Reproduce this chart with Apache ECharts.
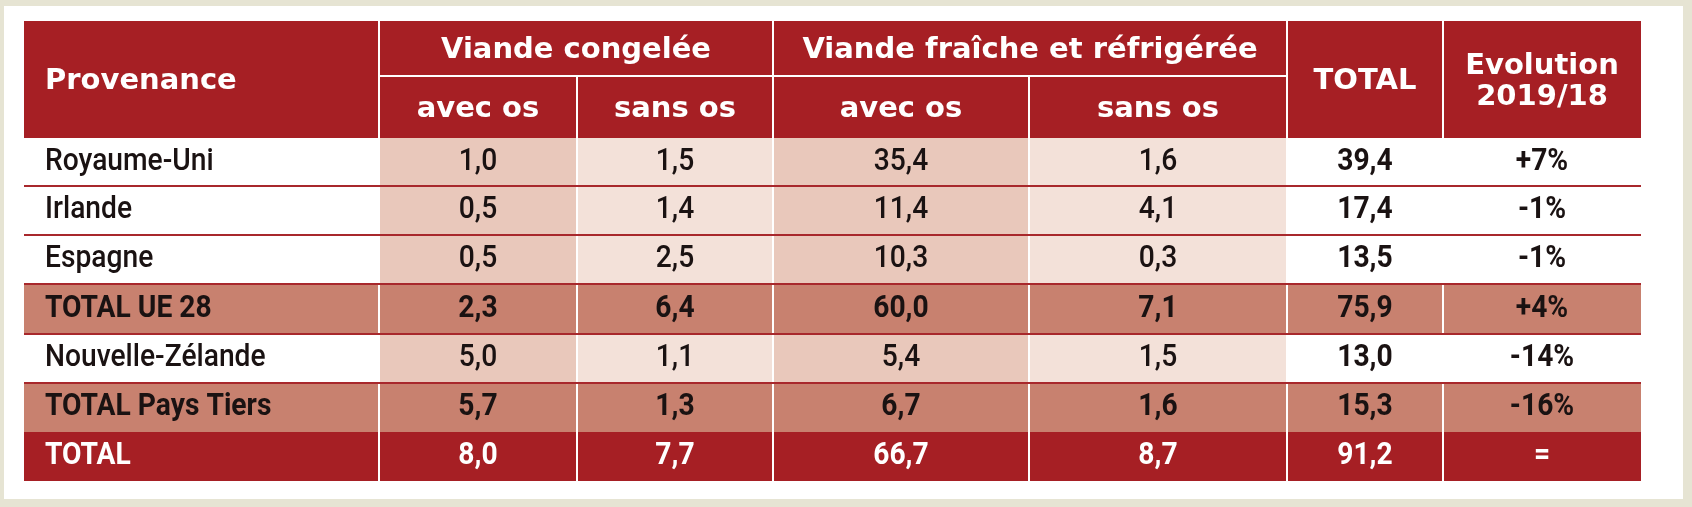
<!DOCTYPE html>
<html>
<head>
<meta charset="utf-8">
<script src="https://cdn.jsdelivr.net/npm/echarts@6/dist/echarts.min.js"></script>
<style>
html, body { margin: 0; padding: 0; background: #e6e4d3; }
#panel { position: absolute; left: 4px; top: 6px; width: 1679px; height: 493px; background: #fff; }
#chart { width: 1679px; height: 493px; }
</style>
</head>
<body>
<div id="panel"><div id="chart"></div></div>
<script>
// en-têtes
const headerTop = ['Provenance', 'Viande congelée', 'Viande fraîche et réfrigérée', 'TOTAL', 'Evolution\n2019/18']
const headerSub = ['avec os', 'sans os', 'avec os', 'sans os']

// données par ligne
const provenance = ['Royaume-Uni', 'Irlande', 'Espagne', 'TOTAL UE 28', 'Nouvelle-Zélande', 'TOTAL Pays Tiers', 'TOTAL']
const rowKind = ['pays', 'pays', 'pays', 'sousTotal', 'pays', 'sousTotal', 'total']
const congeleAvecOs = [1.0, 0.5, 0.5, 2.3, 5.0, 5.7, 8.0]
const congeleSansOs = [1.5, 1.4, 2.5, 6.4, 1.1, 1.3, 7.7]
const fraisAvecOs = [35.4, 11.4, 10.3, 60.0, 5.4, 6.7, 66.7]
const fraisSansOs = [1.6, 4.1, 0.3, 7.1, 1.5, 1.6, 8.7]
const totalPays = [39.4, 17.4, 13.5, 75.9, 13.0, 15.3, 91.2]
const evolution = ['+7%', '-1%', '-1%', '+4%', '-14%', '-16%', '=']

// bords des colonnes / lignes du tableau (unités des axes)
const colEdges = [0, 355, 553, 749, 1005, 1263, 1419, 1617]
const rowEdges = [0, 55, 117, 165, 214, 263, 313, 362, 411, 460]

const RED = '#a61f24'
const SUB = '#c8816f'
const AVEC = '#e9c8bb'
const SANS = '#f3e1d9'
const LINE = '#a8282c'
const INK = '#1a1212'

function fmt (v) {
  return v.toFixed(1).replace('.', ',')
}

// liste des cellules
let cells = []
// en-tête
cells.push({ c0: 0, c1: 1, r0: 0, r1: 2, text: headerTop[0], head: true, left: true })
cells.push({ c0: 1, c1: 3, r0: 0, r1: 1, text: headerTop[1], head: true })
cells.push({ c0: 3, c1: 5, r0: 0, r1: 1, text: headerTop[2], head: true })
cells.push({ c0: 5, c1: 6, r0: 0, r1: 2, text: headerTop[3], head: true })
cells.push({ c0: 6, c1: 7, r0: 0, r1: 2, text: headerTop[4], head: true })
headerSub.forEach(function (t, i) {
  cells.push({ c0: i + 1, c1: i + 2, r0: 1, r1: 2, text: t, head: true })
})
// corps
provenance.forEach(function (name, r) {
  const values = [name, fmt(congeleAvecOs[r]), fmt(congeleSansOs[r]), fmt(fraisAvecOs[r]),
    fmt(fraisSansOs[r]), fmt(totalPays[r]), evolution[r]]
  values.forEach(function (t, c) {
    let fill = '#ffffff'
    if (rowKind[r] === 'total') fill = RED
    else if (rowKind[r] === 'sousTotal') fill = SUB
    else if (c === 1 || c === 3) fill = AVEC
    else if (c === 2 || c === 4) fill = SANS
    cells.push({
      c0: c,
      c1: c + 1,
      r0: r + 2,
      r1: r + 3,
      text: t,
      fill: fill,
      left: c === 0,
      bold: rowKind[r] !== 'pays' || c >= 5,
      color: rowKind[r] === 'total' ? '#ffffff' : INK
    })
  })
})

function renderCell (params, api) {
  const cell = cells[params.dataIndex]
  const p0 = api.coord([colEdges[cell.c0], rowEdges[cell.r0]])
  const p1 = api.coord([colEdges[cell.c1], rowEdges[cell.r1]])
  const gl = cell.c0 === 0 ? 0 : 1
  const gr = cell.c1 === colEdges.length - 1 ? 0 : 1
  let gt = 0
  let gb = 0
  if (cell.head && cell.r0 === 1) gt = 1
  if (cell.head && cell.r1 === 1) gb = 1
  const x = p0[0] + gl
  const y = p0[1] + gt
  const w = p1[0] - p0[0] - gl - gr
  const h = p1[1] - p0[1] - gt - gb
  let font
  if (cell.head) font = 'bold 29px "DejaVu Sans", sans-serif'
  else font = (cell.bold ? 'bold ' : '500 ') + '30px Roboto, "Liberation Sans", sans-serif'
  const tx = cell.left ? p0[0] + 21 : (p0[0] + p1[0]) / 2
  const ty = (p0[1] + p1[1]) / 2 + (cell.head ? 2 : 0)
  return {
    type: 'group',
    children: [
      {
        type: 'rect',
        shape: { x: x, y: y, width: w, height: h },
        style: { fill: cell.head ? RED : cell.fill }
      },
      {
        type: 'text',
        x: tx,
        y: ty,
        scaleX: cell.head ? 1 : 0.94,
        scaleY: cell.head ? 1 : 1.06,
        style: {
          text: cell.text,
          x: 0,
          y: 0,
          align: cell.left ? 'left' : 'center',
          verticalAlign: 'middle',
          font: font,
          lineHeight: 31,
          fill: cell.head ? '#ffffff' : cell.color
        }
      }
    ]
  }
}

// traits rouges entre les lignes du corps
const ruleRows = [3, 4, 5, 6, 7]

function renderRule (params, api) {
  const r = ruleRows[params.dataIndex]
  const a = api.coord([colEdges[0], rowEdges[r]])
  const b = api.coord([colEdges[colEdges.length - 1], rowEdges[r]])
  return {
    type: 'line',
    shape: { x1: a[0], y1: a[1], x2: b[0], y2: b[1] },
    style: { stroke: LINE, lineWidth: 2 }
  }
}

let myChart = echarts.init(document.getElementById('chart'))
let option = {
  animation: false,
  grid: { left: 20, top: 15, width: 1617, height: 460 },
  xAxis: { type: 'value', min: 0, max: colEdges[colEdges.length - 1], show: false },
  yAxis: { type: 'value', min: 0, max: rowEdges[rowEdges.length - 1], inverse: true, show: false },
  series: [
    {
      type: 'custom',
      renderItem: renderCell,
      data: cells.map(function (c) {
        return [(colEdges[c.c0] + colEdges[c.c1]) / 2, (rowEdges[c.r0] + rowEdges[c.r1]) / 2]
      }),
      z: 1
    },
    {
      type: 'custom',
      renderItem: renderRule,
      data: ruleRows.map(function (r) { return [0, rowEdges[r]] }),
      z: 2
    }
  ]
}
myChart.setOption(option)
</script>
</body>
</html>
